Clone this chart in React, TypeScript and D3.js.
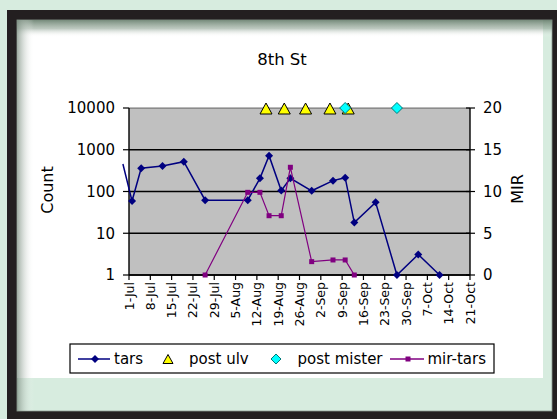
import React from "react";
import * as d3 from "d3";

const title = "8th St";
const xTickLabels = ["1-Jul","8-Jul","15-Jul","22-Jul","29-Jul","5-Aug","12-Aug","19-Aug","26-Aug","2-Sep","9-Sep","16-Sep","23-Sep","30-Sep","7-Oct","14-Oct","21-Oct"];
const countTicks = [1, 10, 100, 1000, 10000];
const mirTicks = [0, 5, 10, 15, 20];

const tarsDates = ["29-Jun","2-Jul","5-Jul","12-Jul","19-Jul","26-Jul","9-Aug","13-Aug","16-Aug","20-Aug","23-Aug","30-Aug","6-Sep","10-Sep","13-Sep","20-Sep","27-Sep","4-Oct","11-Oct"];
const tarsCounts = [455,59,360,408,518,62,62,207,720,105,207,104,182,214,18,55,1,3.1,1];

const ulvDates = ["15-Aug","21-Aug","28-Aug","5-Sep","11-Sep"];
const ulvValues = [10000,10000,10000,10000,10000];

const misterDates = ["10-Sep","27-Sep"];
const misterValues = [10000,10000];

const mirDates = ["26-Jul","9-Aug","13-Aug","16-Aug","20-Aug","23-Aug","30-Aug","6-Sep","10-Sep","13-Sep"];
const mirValues = [0,9.9,9.9,7.1,7.1,12.9,1.6,1.8,1.8,0];

const parse = (s: string) => d3.timeParse("%d-%b-%Y")(s + "-2003") as Date;

const FONT = "'DejaVu Sans', sans-serif";

export default function App() {
  const L = 129, R = 470, T = 108, B = 275;
  const x = d3.scaleTime().domain([parse("1-Jul"), parse("21-Oct")]).range([L, R]);
  const yC = d3.scaleLog().domain([1, 10000]).range([B, T]);
  const yM = d3.scaleLinear().domain([0, 20]).range([B, T]);

  const tarsPts = tarsDates.map((d, i) => [x(parse(d)), yC(tarsCounts[i])] as [number, number]);
  const mirPts = mirDates.map((d, i) => [x(parse(d)), yM(mirValues[i])] as [number, number]);
  const line = d3.line();
  const domStart = parse("1-Jul").getTime();

  const diamond = (cx: number, cy: number, r: number) =>
    `M${cx},${cy - r}L${cx + r},${cy}L${cx},${cy + r}L${cx - r},${cy}Z`;
  const tri = (cx: number, cy: number, w: number, h: number) =>
    `M${cx},${cy - h / 2}L${cx + w / 2},${cy + h / 2}L${cx - w / 2},${cy + h / 2}Z`;

  const legY = 359;

  return (
    <svg width={557} height={419} style={{ position: "absolute", left: 0, top: 0 }}>
      <defs>
        <linearGradient id="topShade" x1="0" y1="0" x2="0" y2="1">
          <stop offset="0" stopColor="#6f8574" stopOpacity={0.95} />
          <stop offset="0.5" stopColor="#8fa394" stopOpacity={0.6} />
          <stop offset="1" stopColor="#ffffff" stopOpacity={0} />
        </linearGradient>
        <linearGradient id="leftShade" x1="0" y1="0" x2="1" y2="0">
          <stop offset="0" stopColor="#7d9082" stopOpacity={0.75} />
          <stop offset="1" stopColor="#ffffff" stopOpacity={0} />
        </linearGradient>
      </defs>
      <rect x={0} y={0} width={557} height={419} fill="#d7ecdf" />
      <rect x={7} y={10} width={560} height={420} fill="#231f20" />
      <rect x={17} y={20} width={535} height={391} fill="#d7ecdf" stroke="#8a9a8e" strokeWidth={0.8} />
      <rect x={17} y={20} width={526} height={358} fill="#ffffff" />
      <rect x={17} y={20} width={535} height={17} fill="url(#topShade)" />
      <rect x={17} y={20} width={17} height={391} fill="url(#leftShade)" />

      <text x={282} y={65} textAnchor="middle" fontFamily={FONT} fontSize={16.5} fill="#000">{title}</text>

      {/* plot area */}
      <rect x={L} y={T} width={R - L} height={B - T} fill="#c0c0c0" />
      {countTicks.map((t) => (
        <line key={"g" + t} x1={L} x2={R} y1={yC(t)} y2={yC(t)} stroke="#000" strokeWidth={t === 10000 ? 1 : 1.4} strokeOpacity={t === 10000 ? 0.55 : 1} />
      ))}
      {/* axes */}
      <line x1={L} x2={L} y1={T} y2={B} stroke="#000" strokeWidth={1.4} />
      <line x1={R} x2={R} y1={T} y2={B} stroke="#000" strokeWidth={1.4} />
      <line x1={L} x2={R} y1={B} y2={B} stroke="#000" strokeWidth={1.4} />
      {countTicks.map((t) => (
        <g key={"lt" + t}>
          <line x1={L - 6} x2={L} y1={yC(t)} y2={yC(t)} stroke="#000" strokeWidth={1.2} />
          <text x={115} y={yC(t)} dy="0.36em" textAnchor="end" fontFamily={FONT} fontSize={15} fill="#000">{t}</text>
        </g>
      ))}
      {mirTicks.map((t) => (
        <g key={"rt" + t}>
          <line x1={R - 4} x2={R + 5} y1={yM(t)} y2={yM(t)} stroke="#000" strokeWidth={1.2} />
          <text x={483} y={yM(t)} dy="0.36em" textAnchor="start" fontFamily={FONT} fontSize={15} fill="#000">{t}</text>
        </g>
      ))}
      {xTickLabels.map((s) => {
        const xx = x(parse(s));
        return (
          <g key={"xt" + s}>
            <line x1={xx} x2={xx} y1={B} y2={B + 5} stroke="#000" strokeWidth={1.2} />
            <text transform={`translate(${xx},${B + 7}) rotate(-90)`} dy="0.36em" textAnchor="end" fontFamily={FONT} fontSize={12.5} fill="#000">{s}</text>
          </g>
        );
      })}
      <text transform={`translate(47,190) rotate(-90)`} dy="0.36em" textAnchor="middle" fontFamily={FONT} fontSize={16} fill="#000">Count</text>
      <text transform={`translate(517,189) rotate(-90)`} dy="0.36em" textAnchor="middle" fontFamily={FONT} fontSize={16} fill="#000">MIR</text>

      {/* tars */}
      <path d={line(tarsPts) || ""} fill="none" stroke="#000080" strokeWidth={1.5} />
      {tarsPts.map((p, i) =>
        parse(tarsDates[i]).getTime() >= domStart ? (
          <path key={"tm" + i} d={diamond(p[0], p[1], 4)} fill="#000080" />
        ) : null
      )}
      {/* post ulv */}
      {ulvDates.map((d, i) => (
        <path key={"u" + i} d={tri(x(parse(d)), yC(ulvValues[i]) + 0.5, 12, 11)} fill="#ffff00" stroke="#000" strokeWidth={1} />
      ))}
      {/* post mister */}
      {misterDates.map((d, i) => (
        <path key={"m" + i} d={diamond(x(parse(d)), yC(misterValues[i]), 5.5)} fill="#00ffff" stroke="#007a7a" strokeWidth={1} />
      ))}
      {/* mir-tars */}
      <path d={line(mirPts) || ""} fill="none" stroke="#800080" strokeWidth={1.2} />
      {mirPts.map((p, i) => (
        <rect key={"mm" + i} x={p[0] - 2.5} y={p[1] - 2.5} width={5} height={5} fill="#800080" />
      ))}

      {/* legend */}
      <rect x={70} y={344} width={424} height={29} fill="#fff" stroke="#000" strokeWidth={1.2} />
      <line x1={78} x2={110} y1={legY} y2={legY} stroke="#000080" strokeWidth={1.5} />
      <path d={diamond(95, legY, 4)} fill="#000080" />
      <text x={114} y={legY} dy="0.36em" fontFamily={FONT} fontSize={15} fill="#000">tars</text>
      <path d={tri(168, legY, 10, 9)} fill="#ffff00" stroke="#000" strokeWidth={1} />
      <text x={189} y={legY} dy="0.36em" fontFamily={FONT} fontSize={15} fill="#000">post ulv</text>
      <path d={diamond(276, legY, 5)} fill="#00ffff" stroke="#007a7a" strokeWidth={1} />
      <text x={297.5} y={legY} dy="0.36em" fontFamily={FONT} fontSize={15} fill="#000">post mister</text>
      <line x1={390} x2={424} y1={legY} y2={legY} stroke="#800080" strokeWidth={1.5} />
      <rect x={405.5} y={legY - 2.5} width={5} height={5} fill="#800080" />
      <text x={427.5} y={legY} dy="0.36em" fontFamily={FONT} fontSize={15} fill="#000">mir-tars</text>
    </svg>
  );
}
